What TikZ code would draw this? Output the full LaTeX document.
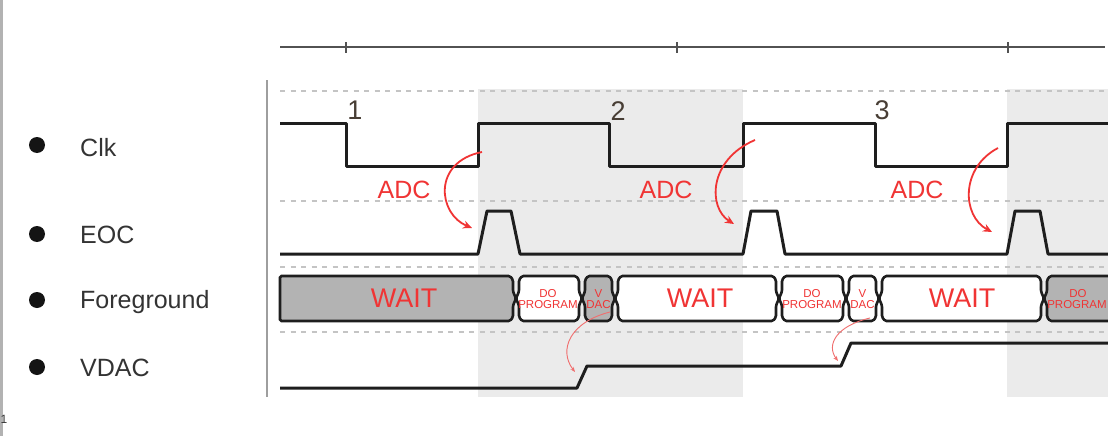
\documentclass[tikz,border=0pt]{standalone}
\usepackage{fontspec}
\setmainfont{Liberation Sans}
\usetikzlibrary{arrows.meta}
\definecolor{shadec}{HTML}{EBEBEB}
\definecolor{dashc}{HTML}{C4C4C4}
\definecolor{busdark}{HTML}{B3B3B3}
\definecolor{sigc}{HTML}{1E1E1E}
\definecolor{lblc}{HTML}{333333}
\definecolor{redt}{RGB}{240,52,52}
\definecolor{redl}{RGB}{240,110,110}
\newcommand\busseg[3]{%
  \filldraw[bus,fill=#3] ({#1+6},276) -- ({#2-6},276) -- ({#2-3},280) -- ({#2-3},291.5) -- (#2,298.5) -- ({#2-3},305.5) -- ({#2-3},317) -- ({#2-6},321) -- ({#1+6},321) -- ({#1+3},317) -- ({#1+3},305.5) -- (#1,298.5) -- ({#1+3},291.5) -- ({#1+3},280) -- cycle;}
\begin{document}
\begin{tikzpicture}[x=1pt,y=-1pt,
  sig/.style={line width=3pt, draw=sigc, line join=round},
  bus/.style={line width=2.6pt, draw=sigc, rounded corners=1.5pt},
  grid/.style={line width=1.8pt, draw=dashc, dash pattern=on 5pt off 5.5pt},
  lbl/.style={anchor=base west, text=lblc, font=\fontsize{25}{30}\selectfont, inner sep=0pt},
  num/.style={anchor=base, text=lblc!85!brown, font=\fontsize{27}{30}\selectfont, inner sep=0pt},
  adc/.style={anchor=base, text=redt, font=\fontsize{25}{30}\selectfont, inner sep=0pt},
  wait/.style={anchor=base, text=redt, font=\fontsize{27}{30}\selectfont, inner sep=0pt},
  small/.style={anchor=base, text=redt, font=\fontsize{11.5}{12}\selectfont, inner sep=0pt},
  bigarr/.style={draw=redt, line width=1.8pt, -{Stealth[length=9pt,width=8pt]}},
  smallarr/.style={draw=redl, line width=0.9pt, -{Stealth[length=5pt,width=4pt]}},
  bullet/.style={circle, fill=black!92, minimum size=16pt, inner sep=0pt}]
\useasboundingbox (0,0) rectangle (1108,436);
\clip (0,0) rectangle (1108,436);
\fill[white] (0,0) rectangle (1108,436);
% left border strip
\fill[black!30] (0,0) rectangle (3,436);
\node[anchor=west, inner sep=0pt, font=\fontsize{12}{12}\selectfont, text=black!80] (edgeone) at (0.5,419) {1};
% shaded regions
\fill[shadec] (478,89) rectangle (743,397);
\fill[shadec] (1007,89) rectangle (1110,397);
% top axis
\draw[line width=2pt, draw=black!68] (280,47) -- (1105,47);
\foreach \t in {346,677,1008} \draw[line width=2pt, draw=black!68] (\t,42.5) -- (\t,53);
% vertical separator
\draw[line width=1.6pt, draw=black!38] (267,80) -- (267,397);
% dashed guide lines
\foreach \yy in {91,201,267,332} \draw[grid] (280,\yy) -- (1110,\yy);
% left labels
\node[bullet] (b1) at (37,145) {};
\node[bullet] (b2) at (37,234) {};
\node[bullet] (b3) at (37,300) {};
\node[bullet] (b4) at (37,367) {};
\node[lbl] (lclk) at (80,156) {Clk};
\node[lbl] (leoc) at (80,243) {EOC};
\node[lbl] (lfg) at (80,308) {Foreground};
\node[lbl] (lvdac) at (80,376) {VDAC};
% clock
\draw[sig] (280,123) -| (346,166) -| (478,123) -| (609,166) -| (743,123) -| (875,166) -| (1007,123) -- (1112,123);
\node[num] (n1) at (355,119) {1};
\node[num] (n2) at (618,120) {2};
\node[num] (n3) at (882,119) {3};
% EOC
\draw[sig] (280,254) -- (478,254) -- (487,211) -- (511,211) -- (520,254) -- (743,254) -- (751,211) -- (777,211) -- (785,254) -- (1007,254) -- (1015,211) -- (1040,211) -- (1048,254) -- (1112,254);
% Foreground bus
\filldraw[bus,fill=busdark] (280,276) -- (510,276) -- (513,280) -- (513,291.5) -- (516,298.5) -- (513,305.5) -- (513,317) -- (510,321) -- (280,321) -- cycle;
\busseg{516}{582}{white}
\busseg{582}{615}{busdark}
\busseg{615}{779}{white}
\busseg{779}{846}{white}
\busseg{846}{879}{white}
\busseg{879}{1044}{white}
\busseg{1044}{1140}{busdark}
\node[wait] (w1) at (404,307) {WAIT};
\node[wait] (w2) at (700,307) {WAIT};
\node[wait] (w3) at (962,307) {WAIT};
\node[small] (do1) at (548,297) {DO};
\node[small] (pr1) at (548,308) {PROGRAM};
\node[small] (v1) at (598.5,297) {V};
\node[small] (dac1) at (598.5,308) {DAC};
\node[small] (do2) at (812,297) {DO};
\node[small] (pr2) at (812,308) {PROGRAM};
\node[small] (v2) at (862.5,297) {V};
\node[small] (dac2) at (862.5,308) {DAC};
\node[small] (do3) at (1078,297) {DO};
\node[small] (pr3) at (1077,308) {PROGRAM};
% VDAC
\draw[sig] (280,388) -- (577,388) -- (587,366) -- (841,366) -- (851,343) -- (1112,343);
% ADC labels and arrows
\node[adc] (adc1) at (404,198) {ADC};
\node[adc] (adc2) at (666,198) {ADC};
\node[adc] (adc3) at (917,198) {ADC};
\coordinate (a1s) at (482,152); \coordinate (a1e) at (472,228);
\coordinate (a2s) at (755,140); \coordinate (a2e) at (734,224);
\coordinate (a3s) at (998,148); \coordinate (a3e) at (992,232);
\draw[bigarr] (a1s) .. controls (432,162) and (438,214) .. (a1e);
\draw[bigarr] (a2s) .. controls (708,160) and (708,208) .. (a2e);
\draw[bigarr] (a3s) .. controls (960,168) and (962,216) .. (a3e);
% small VDAC arrows
\coordinate (s1s) at (610,312); \coordinate (s1e) at (575,372);
\coordinate (s2s) at (870,318); \coordinate (s2e) at (838,361);
\draw[smallarr] (s1s) .. controls (570,322) and (558,350) .. (s1e);
\draw[smallarr] (s2s) .. controls (836,326) and (826,345) .. (s2e);
\end{tikzpicture}
\end{document}
